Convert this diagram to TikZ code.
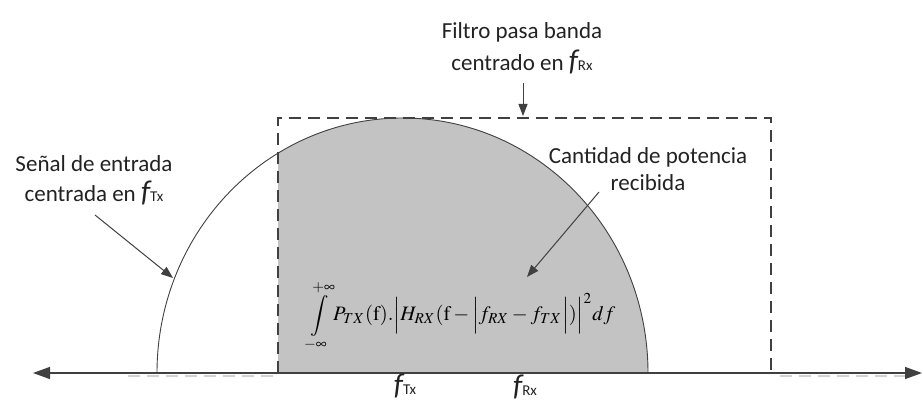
\documentclass[tikz,border=0pt]{standalone}
\usepackage{mathptmx}
\usepackage{fontspec}
\setmainfont{Carlito}
\usetikzlibrary{arrows.meta}
\definecolor{ln}{HTML}{404040}
\definecolor{tx}{HTML}{222222}
\definecolor{fillg}{HTML}{C3C3C3}
\newcommand\fsub[1]{{\fontsize{30}{30}\selectfont\itshape f}{\fontsize{15}{15}\selectfont #1}}
\tikzset{
  lbl/.style={text=tx, font=\fontsize{23}{27}\selectfont, align=center, inner sep=0pt},
  axisln/.style={draw=ln, line width=1.4pt, {Triangle[width=12pt,length=17pt]}-{Triangle[width=12pt,length=17pt]}},
  pointer/.style={draw=ln, line width=1pt, -{Triangle[width=9pt,length=12pt]}},
  filt/.style={draw=ln, line width=1.3pt, dash pattern=on 12pt off 7pt},
  faint/.style={draw=gray!35, line width=1.2pt, dash pattern=on 12pt off 7pt},
}
\begin{document}
\begin{tikzpicture}[x=1pt,y=-1pt]
\useasboundingbox (0,0) rectangle (923,403);
% gray filled region
\begin{scope}
  \clip (278,118) rectangle (771,373);
  \fill[fillg] (402.5,373) ellipse [x radius=245.5, y radius=255];
\end{scope}
% ellipse outline
\begin{scope}
  \clip (0,0) rectangle (923,373);
  \draw[ln, line width=0.9pt] (402.5,373) ellipse [x radius=245.5, y radius=255];
\end{scope}
% coordinates
\coordinate (axL) at (33,373);
\coordinate (axR) at (922,373);
\coordinate (fb1) at (278,373);
\coordinate (fb2) at (278,118);
\coordinate (fb3) at (771,118);
\coordinate (fb4) at (771,373);
% faint dashed baseline pieces
\coordinate (g1) at (128,376);
\coordinate (g2) at (278,376);
\coordinate (g3) at (780,376);
\coordinate (g4) at (905,376);
\draw[faint] (g1) -- (g2);
\draw[faint] (g3) -- (g4);
% filter box
\draw[filt] (fb1) -- (fb2) -- (fb3) -- (fb4);
% axis
\draw[axisln] (axL) -- (axR);
% labels
\node[lbl] (filtro) at (522,48) {Filtro pasa banda\\[5pt]centrado en \fsub{Rx}};
\node[lbl] (senal) at (94,180) {Se\~nal de entrada\\[3pt]centrada en \fsub{Tx}};
\node[lbl] (cant) at (648,169) {Cantidad de potencia\\recibida};
\node[text=tx, inner sep=0pt] (ftx) at (405,386) {\fsub{Tx}};
\node[text=tx, inner sep=0pt] (frx) at (525,387) {\fsub{Rx}};
\node[text=black, inner sep=0pt, anchor=west] (formula) at (308,316)
  {\scalebox{2.05}{$\displaystyle\int\limits_{-\infty}^{+\infty} P_{TX}(\mathrm{f}).\Bigl|H_{RX}(\mathrm{f}-\Bigl|f_{RX}-f_{TX}\Bigr|)\Bigr|^2 df$}};
% pointers
\coordinate (fa) at (523,83);
\coordinate (fe) at (523,116);
\draw[pointer] (fa) -- (fe);
\coordinate (sa) at (95,215);
\coordinate (se) at (173,278);
\draw[pointer] (sa) -- (se);
\coordinate (ca) at (599,192);
\coordinate (ce) at (527,277);
\draw[pointer] (ca) -- (ce);
\end{tikzpicture}
\end{document}
